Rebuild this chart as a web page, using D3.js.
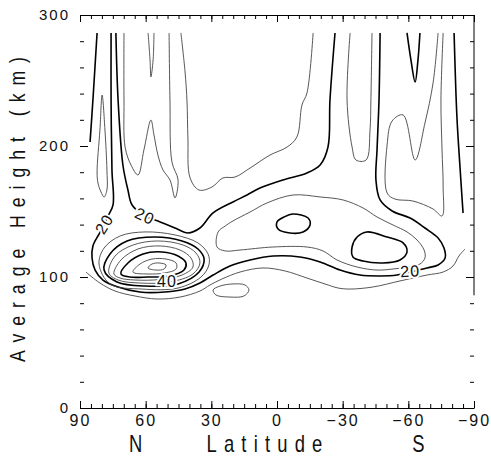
<!DOCTYPE html>
<html>
<head>
<meta charset="utf-8">
<script src="https://cdn.jsdelivr.net/npm/d3@7"></script>
<style>
  body { margin: 0; background: #fff; }
  svg { display: block; }
  text { font-family: "Liberation Sans", Arial, sans-serif; fill: #111; }
</style>
</head>
<body>
<svg id="chart" width="491" height="461"></svg>
<script>
// axis ticks
const latTicks = [90, 60, 30, 0, -30, -60, -90];
const heightTicks = [0, 100, 200, 300];

// contour lines, points are [latitude, height km]
const c01 = [[85.4,203.1],[84.1,235.1],[82.2,286.3]];
const c02 = [[79.9,238.9],[78.6,212.2],[77.7,181.7],[77.7,166.4],[79.0,161.1],[80.4,164.9],[81.8,171.8],[82.2,180.2],[80.9,212.2]];
const c03 = [[75.8,286.3],[75.8,235.1],[75.4,181.7],[74.9,155.0],[77.2,146.6],[79.0,139.7],[81.3,132.8],[84.1,123.7],[84.5,114.5],[83.1,105.3],[79.5,97.7],[72.6,92.4],[62.6,88.5],[51.2,88.5],[42.0,90.8],[35.2,95.4],[29.2,101.5],[21.5,108.4],[12.3,113.0],[1.8,116.0],[-10.5,115.3],[-19.7,111.5],[-28.8,105.3],[-37.9,101.5],[-47.1,100.8],[-54.8,101.5],[-60.8,103.8],[-68.5,106.9],[-73.6,109.2],[-76.8,114.5],[-76.3,122.1],[-73.6,129.8],[-67.6,137.4],[-60.8,145.0],[-52.6,150.4],[-47.1,158.8],[-45.2,174.1],[-45.7,197.0],[-46.6,235.1],[-47.1,286.3]];
const c04 = [[73.6,286.3],[72.6,235.1],[70.4,185.5],[68.1,166.4],[66.2,155.0],[60.3,146.6],[53.4,142.0],[46.6,137.4],[40.7,133.6],[35.2,137.4],[29.2,148.9],[20.1,157.3],[13.7,162.6],[7.8,167.9],[-2.7,174.1],[-13.7,179.4],[-19.7,185.5],[-23.3,199.2],[-24.2,235.1],[-26.5,286.3]];
const c05 = [[69.9,286.3],[69.9,235.1],[69.4,199.2],[66.7,185.5],[63.5,177.9],[60.8,197.0],[57.6,219.8],[56.2,208.4],[54.4,193.1],[52.1,181.7],[48.9,174.1],[46.6,160.3],[45.2,174.1],[48.0,187.8],[48.9,235.1],[49.3,286.3]];
const c06 = [[58.9,286.3],[58.0,265.6],[57.6,252.7],[56.6,265.6],[56.2,286.3]];
const c07 = [[43.9,286.3],[42.0,256.5],[41.1,233.6],[40.7,206.1],[39.7,175.6],[35.6,166.4],[29.7,168.7],[24.7,175.6],[19.2,176.3],[12.3,183.2],[3.2,193.1],[-4.6,199.2],[-9.1,206.9],[-11.4,231.3],[-13.7,240.5],[-16.5,286.3]];
const c08 = [[-33.4,286.3],[-32.0,235.1],[-34.3,199.2],[-36.1,189.3],[-40.7,189.3],[-42.5,212.2],[-42.9,235.1],[-43.4,286.3]];
const c09 = [[-59.4,286.3],[-61.2,265.6],[-63.1,248.9],[-64.4,265.6],[-65.3,286.3]];
const c10 = [[-73.6,286.3],[-71.3,248.1],[-67.6,217.6],[-63.1,189.3],[-57.6,223.7],[-52.6,219.1],[-50.3,200.8],[-50.3,164.1],[-53.9,159.5],[-62.1,158.0],[-71.3,151.9],[-75.4,146.6],[-75.9,168.7],[-75.4,197.0],[-74.9,235.1],[-75.9,286.3]];
const c11 = [[-80.9,286.3],[-82.2,222.1],[-83.6,184.0],[-85.0,148.9]];
const c12 = [[27.4,122.9],[26.9,134.4],[23.7,138.9],[20.1,142.8],[12.3,149.6],[4.6,156.5],[-7.3,162.6],[-19.7,161.1],[-30.2,158.8],[-39.3,152.7],[-45.7,145.8],[-53.0,139.7],[-59.4,134.4],[-64.0,128.2],[-67.2,120.6],[-67.6,114.5],[-65.3,109.9],[-59.9,107.6],[-53.0,106.1],[-45.7,105.3],[-36.6,107.6],[-27.4,113.0],[-21.0,119.9],[-13.7,122.9],[1.8,122.9],[16.9,120.6],[23.7,119.9]];
const c13 = [[87.3,103.8],[80.9,95.4],[74.0,89.3],[64.9,85.5],[54.8,83.2],[44.3,84.7],[35.2,89.3],[30.6,93.9],[25.1,98.5],[16.9,103.8],[6.4,106.9],[-3.7,104.6],[-13.7,99.2],[-21.9,94.7],[-27.9,91.6],[-33.4,90.8],[-43.9,92.4],[-56.2,97.0],[-68.5,101.5],[-75.9,103.8],[-80.4,108.4],[-83.1,116.0],[-85.9,121.4]];
const c14 = [[29.2,90.1],[26.0,93.1],[20.1,94.7],[14.6,93.9],[12.8,90.1],[15.1,85.5],[21.5,84.7],[27.9,86.3]];
const c15 = [[0,142.0],[-3.2,145.8],[-7.3,148.1],[-14.2,145.0],[-15.1,139.7],[-11.9,134.4],[-5.9,133.6],[-0.5,136.6]];
const c16 = [[-34.3,122.9],[-36.6,130.5],[-41.1,134.4],[-50.3,130.5],[-57.6,126.0],[-59.4,119.1],[-56.2,113.0],[-48.4,110.7],[-39.3,112.2],[-34.7,115.3]];
// nested loops round the maximum near 55N, 110 km (outermost first)
const p1 = [[81.3,109.9],[79.0,122.1],[71.7,131.3],[60.3,134.4],[46.6,132.1],[36.1,126.0],[31.5,117.6],[31.1,109.2],[34.7,100.0],[45.2,91.6],[61.7,90.8],[76.3,94.7]];
const p2 = [[79.0,105.3],[76.3,117.6],[68.5,127.5],[55.7,130.5],[43.4,127.5],[36.1,121.4],[33.3,113.7],[35.6,103.8],[45.2,94.7],[60.3,93.1],[73.1,96.2]];
const p3 = [[76.8,103.1],[74.0,116.0],[65.8,124.4],[54.4,127.5],[42.9,124.4],[37.0,118.3],[35.2,110.7],[38.4,102.3],[48.9,96.2],[62.6,95.4],[72.6,97.7]];
const p4 = [[74.5,102.3],[71.3,113.0],[63.5,121.4],[53.4,123.7],[44.3,120.6],[39.3,114.5],[38.4,107.6],[43.4,101.5],[53.4,98.1],[64.9,97.7],[71.7,99.2]];
const p5 = [[71.3,102.3],[68.1,110.7],[61.2,117.6],[52.5,119.1],[45.2,116.0],[41.6,110.7],[42.5,105.3],[48.9,100.8],[58.9,100.0],[67.2,100.0]];
const p6 = [[65.8,103.8],[62.6,109.9],[57.1,113.7],[50.7,113.7],[46.1,110.7],[46.1,106.1],[51.2,103.1],[58.9,102.3]];
const p7 = [[58.9,106.9],[57.1,109.9],[53.9,110.7],[50.7,109.2],[51.6,106.1],[55.3,105.3]];

// contour labels
const labelText = ["20", "20", "40", "20"];
const labelLat = [79.0, 60.3, 50.3, -60.8];
const labelKm = [140.5, 146.6, 97.0, 104.6];

const svg = d3.select("#chart");
const W = 491, H = 461;
const margin = {top: 15, right: 17, bottom: 53, left: 80};
const width = W - margin.left - margin.right,
      height = H - margin.top - margin.bottom;

const x = d3.scaleLinear().domain([90, -90]).range([0, width]);
const y = d3.scaleLinear().domain([0, 300]).range([height, 0]);

const g = svg.append("g")
    .attr("transform", "translate(" + margin.left + "," + margin.top + ")");

// contours
const openLine = d3.line().x(d => x(d[0])).y(d => y(d[1])).curve(d3.curveCatmullRom.alpha(0.5));
const closedLine = d3.line().x(d => x(d[0])).y(d => y(d[1])).curve(d3.curveCatmullRomClosed.alpha(0.5));

const contours = [
  {pts: c01, thick: true,  closed: false},
  {pts: c02, thick: false, closed: true},
  {pts: c03, thick: true,  closed: false},
  {pts: c04, thick: true,  closed: false},
  {pts: c05, thick: false, closed: false},
  {pts: c06, thick: false, closed: false},
  {pts: c07, thick: false, closed: false},
  {pts: c08, thick: false, closed: false},
  {pts: c09, thick: true,  closed: false},
  {pts: c10, thick: false, closed: false},
  {pts: c11, thick: true,  closed: false},
  {pts: c12, thick: false, closed: true},
  {pts: c13, thick: false, closed: false},
  {pts: c14, thick: false, closed: true},
  {pts: c15, thick: true,  closed: true},
  {pts: c16, thick: true,  closed: true},
  {pts: p1, thick: false, closed: true},
  {pts: p2, thick: true,  closed: true},
  {pts: p3, thick: false, closed: true},
  {pts: p4, thick: false, closed: true},
  {pts: p5, thick: true,  closed: true},
  {pts: p6, thick: false, closed: true},
  {pts: p7, thick: false, closed: true}
];

g.append("g").selectAll("path")
  .data(contours)
  .join("path")
    .attr("d", d => d.closed ? closedLine(d.pts) : openLine(d.pts))
    .attr("fill", "none")
    .attr("stroke", d => d.thick ? "#000" : "#444")
    .attr("stroke-width", d => d.thick ? 1.6 : 0.9)
    .attr("stroke-linejoin", "round");

// labels on the contours
const labelAngle = [-58, 25, 0, -3];
g.append("g").selectAll("text")
  .data(labelText)
  .join("text")
    .attr("transform", (d, i) => "translate(" + x(labelLat[i]) + "," + y(labelKm[i]) + ") rotate(" + labelAngle[i] + ")")
    .attr("text-anchor", "middle")
    .attr("dy", "0.36em")
    .style("font-size", "16px")
    .style("letter-spacing", "1px")
    .style("paint-order", "stroke")
    .attr("stroke", "#fff")
    .attr("stroke-width", 4)
    .text(d => d);

// axes
const minorLat = d3.range(-90, 91, 5);
const minorKm = d3.range(20, 300, 20);

// bottom
g.append("g")
    .attr("transform", "translate(0," + height + ")")
    .call(d3.axisBottom(x).tickValues(minorLat).tickSize(-4).tickSizeOuter(0).tickFormat(""));
g.append("g")
    .attr("class", "xlab")
    .attr("transform", "translate(0," + height + ")")
    .call(d3.axisBottom(x).tickValues(latTicks).tickSize(-7).tickSizeOuter(0).tickPadding(7).tickFormat(d3.format("d")))
    .call(s => s.select(".domain").remove());

// top
g.append("g")
    .call(d3.axisTop(x).tickValues(minorLat).tickSize(-4).tickSizeOuter(0).tickFormat(""));
g.append("g")
    .call(d3.axisTop(x).tickValues(latTicks).tickSize(-7).tickSizeOuter(0).tickFormat(""))
    .call(s => s.select(".domain").remove());

// left, no spine in the original
g.append("g")
    .call(d3.axisLeft(y).tickValues(minorKm).tickSize(-4).tickFormat(""))
    .call(s => s.select(".domain").remove());
g.append("g")
    .attr("class", "ylab")
    .call(d3.axisLeft(y).tickValues(heightTicks).tickSize(-8).tickPadding(10))
    .call(s => s.select(".domain").remove());

// right, spine stops part way down
g.append("g")
    .attr("transform", "translate(" + width + ",0)")
    .call(d3.axisRight(y).tickValues(minorKm).tickSize(-4).tickFormat(""))
    .call(s => s.select(".domain").remove());
g.append("g")
    .attr("transform", "translate(" + width + ",0)")
    .call(d3.axisRight(y).tickValues([100, 200]).tickSize(-8).tickFormat(""))
    .call(s => s.select(".domain").remove());
g.append("line")
    .attr("x1", width).attr("x2", width)
    .attr("y1", y(300)).attr("y2", y(86))
    .attr("stroke", "#000");

g.selectAll(".tick line, .domain").attr("stroke", "#000");
g.selectAll(".xlab text")
    .style("font-size", "16px")
    .style("letter-spacing", "2px")
    .attr("fill", "#111");
g.selectAll(".ylab text")
    .style("font-size", "15px")
    .style("letter-spacing", "2px")
    .attr("fill", "#111");

// titles
g.append("text")
    .attr("transform", "translate(" + (-55) + "," + (height / 2 - 6) + ") rotate(-90) scale(0.8,1)")
    .attr("text-anchor", "middle")
    .style("font-size", "22px")
    .style("letter-spacing", "10px")
    .text("Average Height (km)");

const titleY = height + 44;
g.append("text")
    .attr("transform", "translate(" + (x(0) - 9) + "," + titleY + ") scale(0.8,1)")
    .attr("text-anchor", "middle")
    .style("font-size", "23px")
    .style("letter-spacing", "9px")
    .text("Latitude");
g.append("text")
    .attr("transform", "translate(" + (x(60) - 10) + "," + titleY + ") scale(0.8,1)")
    .attr("text-anchor", "middle")
    .style("font-size", "23px")
    .text("N");
g.append("text")
    .attr("transform", "translate(" + (x(-60) + 10) + "," + titleY + ") scale(0.8,1)")
    .attr("text-anchor", "middle")
    .style("font-size", "23px")
    .text("S");
</script>
</body>
</html>
